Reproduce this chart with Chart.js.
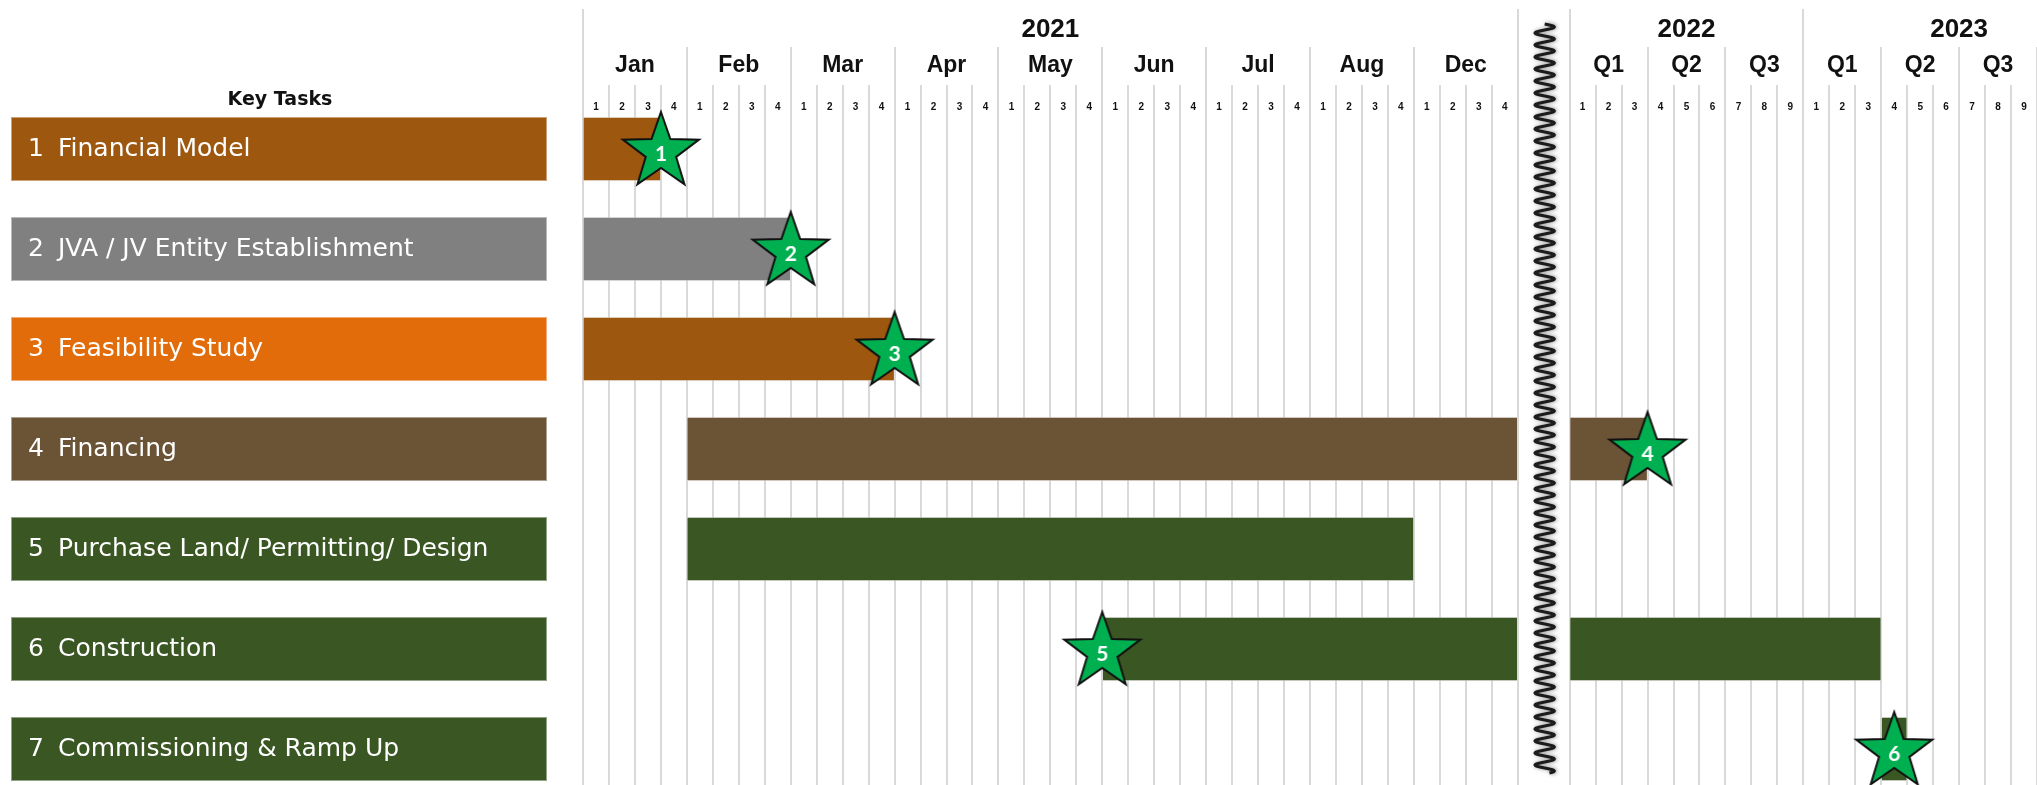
<!DOCTYPE html>
<html>
<head>
<meta charset="utf-8">
<script src="https://cdn.jsdelivr.net/npm/chart.js@4.4.1/dist/chart.umd.min.js"></script>
<style>
  html, body { margin: 0; padding: 0; background: #ffffff; overflow: hidden; }
  #wrap { width: 2037px; height: 800px; position: relative; }
  canvas { display: block; }
</style>
</head>
<body>
<div id="wrap"><canvas id="c" width="2037" height="800"></canvas></div>
<script>
// ---------------- DATA ----------------
const tasks = [
  'Financial Model',
  'JVA / JV Entity Establishment',
  'Feasibility Study',
  'Financing',
  'Purchase Land/ Permitting/ Design',
  'Construction',
  'Commissioning & Ramp Up'
];
const taskNumbers = ['1', '2', '3', '4', '5', '6', '7'];

// timeline tick labels
const years = ['2021', '2022', '2023'];
const months2021 = ['Jan', 'Feb', 'Mar', 'Apr', 'May', 'Jun', 'Jul', 'Aug', 'Dec'];
const weeksPerMonth = ['1', '2', '3', '4'];
const quarters2022 = ['Q1', 'Q2', 'Q3'];
const quarters2023 = ['Q1', 'Q2', 'Q3', 'Q4'];
const periods = ['1', '2', '3', '4', '5', '6', '7', '8', '9', '10', '11', '12'];

// bars: [start, end] in timeline units (one unit = one week cell / period cell)
const barsPart1 = [[0, 3], [0, 8], [0, 12], [4, 36], [4, 32], [20, 36], null];
const barsPart2 = [null, null, null, [38, 41], null, [38, 50], [50, 51]];

// milestones (stars)
const milestoneNumbers = ['1', '2', '3', '4', '5', '6'];
const milestoneAt = [3, 8, 12, 41, 20, 50.5];
const milestoneTask = [0, 1, 2, 3, 5, 6];

// ---------------- STYLES ----------------
const labelColors = ['#9E570E', '#808080', '#E26B0A', '#6B5336', '#3A5623', '#3A5623', '#3A5623'];
const barColors   = ['#9E570E', '#808080', '#9E570E', '#6B5336', '#3A5623', '#3A5623', '#3A5623'];
const gridColor = '#d9d9d9';
const starFill = '#00B050';

// timeline structure (built from the tick label arrays)
const timeline = [
  { year: years[0], groups: months2021, per: weeksPerMonth.length, cellLabels: (g, p) => weeksPerMonth[p] },
  { gap: 2 },
  { year: years[1], groups: quarters2022, per: 3, cellLabels: (g, p) => periods[g * 3 + p] },
  { year: years[2], groups: quarters2023, per: 3, cellLabels: (g, p) => periods[g * 3 + p] }
];

// ---------------- STAR IMAGES ----------------
function makeStar(label) {
  const size = 90, R = 40, r = 16;
  const cv = document.createElement('canvas');
  cv.width = size; cv.height = size;
  const c = cv.getContext('2d');
  const cx = size / 2, cy = size / 2 + 3;
  c.beginPath();
  for (let i = 0; i < 10; i++) {
    const rad = i % 2 === 0 ? R : r;
    const a = -Math.PI / 2 + i * Math.PI / 5;
    const px = cx + rad * Math.cos(a), py = cy + rad * Math.sin(a);
    if (i === 0) c.moveTo(px, py); else c.lineTo(px, py);
  }
  c.closePath();
  c.fillStyle = starFill;
  c.fill();
  c.lineWidth = 2;
  c.lineJoin = 'miter';
  c.strokeStyle = '#111111';
  c.stroke();
  c.fillStyle = '#ffffff';
  c.font = 'bold 21px Lato, "Open Sans", sans-serif';
  c.textAlign = 'center';
  c.textBaseline = 'middle';
  c.fillText(label, cx, cy + 2);
  return cv;
}
const starImages = milestoneNumbers.map(makeStar);

// ---------------- DECORATION PLUGIN ----------------
const TOP_YEAR_LINE = 9, TOP_GROUP_LINE = 47, TOP_CELL_LINE = 85;
const Y_YEAR = 30, Y_GROUP = 66, Y_CELL = 107;

const ganttDecor = {
  id: 'ganttDecor',
  beforeDatasetsDraw(chart) {
    const ctx = chart.ctx, xs = chart.scales.x, ys = chart.scales.y;
    const bottom = chart.height;
    const W = chart.width;
    const px = v => xs.getPixelForValue(v);
    const lines = [];
    const texts = [];
    let c = 0;
    timeline.forEach(seg => {
      if (seg.gap) {
        lines.push([c, TOP_YEAR_LINE]);
        c += seg.gap;
        return;
      }
      const yStart = c;
      seg.groups.forEach((g, gi) => {
        const gStart = c;
        for (let p = 0; p < seg.per; p++) {
          const top = (p > 0) ? TOP_CELL_LINE : (gi === 0 ? TOP_YEAR_LINE : TOP_GROUP_LINE);
          lines.push([c, top]);
          texts.push({ v: c + 0.5, y: Y_CELL, t: seg.cellLabels(gi, p), font: 'bold 10px "Liberation Sans", Arial, sans-serif' });
          c++;
        }
        texts.push({ v: (gStart + c) / 2, y: Y_GROUP, t: g, font: 'bold 23px "Liberation Sans", Arial, sans-serif' });
      });
      texts.push({ v: (yStart + c) / 2, y: Y_YEAR, t: seg.year, font: 'bold 26px "Liberation Sans", Arial, sans-serif' });
    });

    ctx.save();
    // vertical grid lines
    ctx.strokeStyle = gridColor;
    ctx.lineWidth = 2;
    lines.forEach(([v, top]) => {
      const x = Math.round(px(v));
      if (x > W) return;
      ctx.beginPath();
      ctx.moveTo(x, top);
      ctx.lineTo(x, bottom);
      ctx.stroke();
    });
    // header texts
    ctx.fillStyle = '#111111';
    ctx.textAlign = 'center';
    ctx.textBaseline = 'middle';
    texts.forEach(tx => {
      ctx.font = tx.font;
      const x = px(tx.v);
      const w = ctx.measureText(tx.t).width;
      if (x + w / 2 > W) return;
      ctx.fillText(tx.t, x, tx.y);
    });

    // left task label boxes
    ctx.font = 'bold 19px "DejaVu Sans", sans-serif';
    ctx.fillStyle = '#111111';
    ctx.fillText('Key Tasks', 280, 100);
    tasks.forEach((name, i) => {
      const yc = ys.getPixelForValue(i);
      const h = 64;
      ctx.fillStyle = labelColors[i];
      ctx.fillRect(11, yc - h / 2, 536, h);
      ctx.strokeStyle = 'rgba(255,255,255,0.45)';
      ctx.lineWidth = 1;
      ctx.strokeRect(11.5, yc - h / 2 + 0.5, 535, h - 1);
      ctx.fillStyle = '#ffffff';
      ctx.textAlign = 'left';
      ctx.font = '25px "DejaVu Sans", sans-serif';
      ctx.fillText(taskNumbers[i], 28, yc);
      ctx.fillText(name, 58, yc);
    });
    ctx.restore();
  },
  afterDatasetsDraw(chart) {
    // zigzag break marker in the gap between 2021 and 2022
    const ctx = chart.ctx, xs = chart.scales.x;
    let c = 0, gapCenter = null;
    timeline.forEach(seg => {
      if (seg.gap) { gapCenter = c + seg.gap / 2; c += seg.gap; }
      else c += seg.groups.length * seg.per;
    });
    const cx = xs.getPixelForValue(gapCenter) + 1;
    const top = 24, bot = 773, amp = 9.5, period = 12;
    ctx.save();
    ctx.beginPath();
    for (let y = top; y <= bot; y += 0.5) {
      const x = cx + amp * Math.sin(2 * Math.PI * (y - top) / period);
      if (y === top) ctx.moveTo(x, y); else ctx.lineTo(x, y);
    }
    ctx.shadowColor = 'rgba(0,0,0,0.45)';
    ctx.shadowBlur = 4;
    ctx.shadowOffsetX = 1;
    ctx.strokeStyle = '#1c1c1c';
    ctx.lineWidth = 3.2;
    ctx.stroke();
    ctx.restore();
  }
};

// ---------------- CHART ----------------
const starData = milestoneAt.map((v, i) => ({ x: v, y: tasks[milestoneTask[i]] }));

new Chart(document.getElementById('c'), {
  type: 'bar',
  data: {
    labels: tasks,
    datasets: [
      {
        type: 'scatter',
        data: starData,
        pointStyle: starImages,
        pointRadius: 40,
        showLine: false,
        order: 0,
        clip: false
      },
      {
        data: barsPart1,
        backgroundColor: barColors,
        borderColor: 'rgba(230,230,230,0.55)',
        borderWidth: 1,
        borderSkipped: false,
        barThickness: 64,
        grouped: false,
        order: 1
      },
      {
        data: barsPart2,
        backgroundColor: barColors,
        borderColor: 'rgba(230,230,230,0.55)',
        borderWidth: 1,
        borderSkipped: false,
        barThickness: 64,
        grouped: false,
        order: 1
      }
    ]
  },
  options: {
    indexAxis: 'y',
    responsive: false,
    devicePixelRatio: 1,
    animation: false,
    events: [],
    layout: { autoPadding: false, padding: { left: 583, top: 99, right: 0, bottom: 1 } },
    plugins: { legend: { display: false }, tooltip: { enabled: false } },
    scales: {
      x: { type: 'linear', min: 0, max: 56, display: false },
      y: { type: 'category', display: false, offset: true }
    }
  },
  plugins: [ganttDecor]
});
</script>
</body>
</html>
